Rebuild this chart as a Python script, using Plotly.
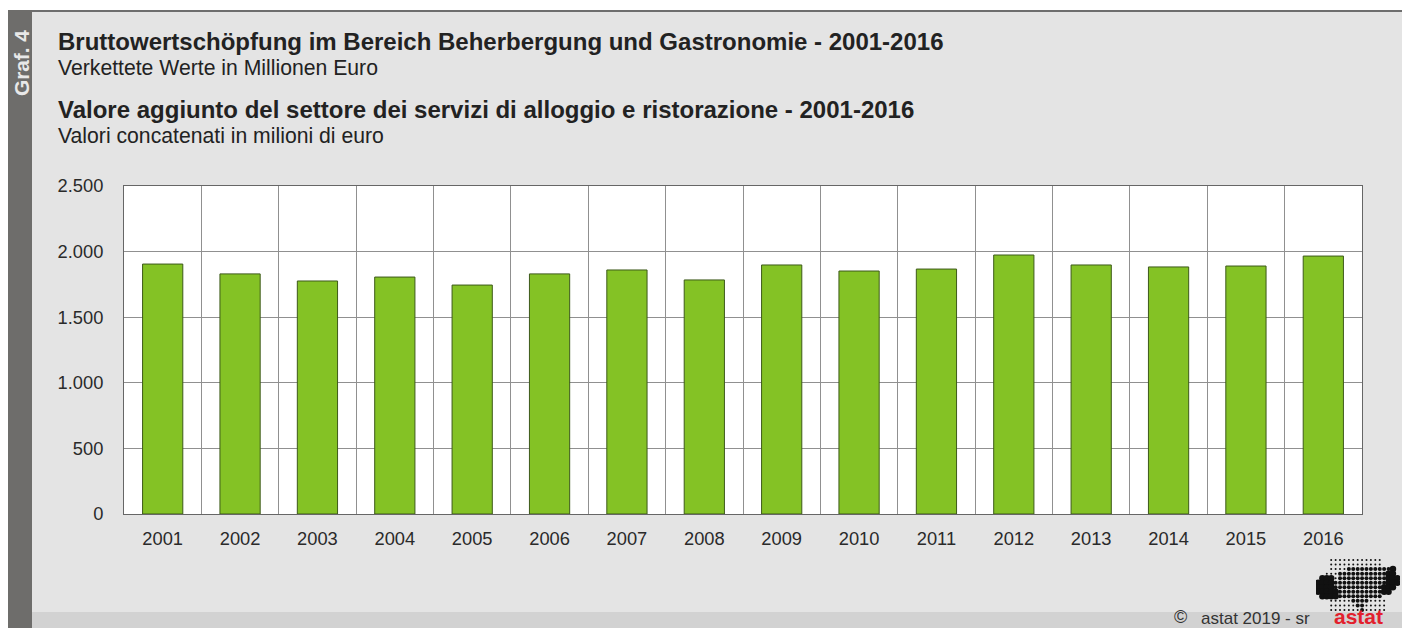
import plotly.graph_objects as go

W, H = 1402, 628
years = ["2001","2002","2003","2004","2005","2006","2007","2008","2009","2010","2011","2012","2013","2014","2015","2016"]
values = [1905,1830,1776,1806,1745,1830,1860,1784,1898,1852,1867,1974,1898,1883,1890,1966]
y_ticks = [0,500,1000,1500,2000,2500]
y_labels = ["0","500","1.000","1.500","2.000","2.500"]
logo_rows = [
    "   ............    ",
    "   ............    ",
    "   ....##########@ ",
    "  ...###########@@ ",
    " @@@.###########@@@",
    "@@@@############@@@",
    "@@@@###########@@@ ",
    "@@@@@##########@@  ",
    " @@@@##########    ",
    "   .....####....   ",
    "   ......##.....   ",
    "   .......#.....   ",
]

def px(x): return x / W
def py(y): return 1 - y / H

fig = go.Figure()
fig.add_bar(x=years, y=values, width=0.52, marker=dict(color="#84c225", line=dict(color="#3d5a1a", width=1)), hoverinfo="skip")

dx, dy, sizes = [], [], []
size_of = {"@": 6.5, "#": 4, ".": 2}
for r, row in enumerate(logo_rows):
    for c, ch in enumerate(row):
        if ch != " ":
            dx.append(c); dy.append(r); sizes.append(size_of[ch])
fig.add_scatter(x=dx, y=dy, xaxis="x2", yaxis="y2", mode="markers",
                marker=dict(color="#111111", size=sizes, line_width=0, opacity=1), hoverinfo="skip")

def txt(x, y, s, size, bold=False, color="#222222", **kw):
    fig.add_annotation(xref="paper", yref="paper", x=px(x), y=py(y), text=f"<b>{s}</b>" if bold else s,
        showarrow=False, xanchor=kw.pop("xanchor","left"), yanchor="middle",
        font=dict(size=size, color=color, family="Liberation Sans, Arial"), **kw)

txt(58, 42, "Bruttowertschöpfung im Bereich Beherbergung und Gastronomie - 2001-2016", 24, True, xshift=-2)
txt(58, 67, "Verkettete Werte in Millionen Euro", 21.2, xshift=-2)
txt(58, 110, "Valore aggiunto del settore dei servizi di alloggio e ristorazione - 2001-2016", 24, True, xshift=-2)
txt(58, 135, "Valori concatenati in milioni di euro", 21.2, xshift=-2)
txt(21, 63, "Graf. 4", 20.8, True, color="#e8e8e8", xanchor="center", textangle=-90)
txt(1174, 617, "©", 18, color="#333333", xshift=-2)
txt(1201, 618, "astat 2019 - sr", 17, color="#333333", xshift=-2)
txt(1358, 616, "astat", 21, True, color="#e2202c", xanchor="center")

shape = lambda x0,y0,x1,y1,c: dict(type="rect", xref="paper", yref="paper", x0=px(x0), x1=px(x1), y0=py(y0), y1=py(y1), fillcolor=c, line_width=0, layer="below")
fig.update_layout(
    width=W, height=H, margin=dict(l=0,r=0,t=0,b=0), showlegend=False,
    paper_bgcolor="#e4e4e4", plot_bgcolor="#ffffff",
    font=dict(family="Liberation Sans, Arial", size=18.3, color="#2a2a2a"),
    shapes=[shape(0,0,W,10,"#ffffff"), shape(0,0,8,H,"#ffffff"), shape(8,10,W,12,"#6e6e6e"), shape(8,10,32,H,"#6e6d6b"),
            shape(1314,556,1402,612,"#e4e4e4"), shape(32,612,W,H,"#d2d2d2")],
    xaxis=dict(domain=[px(124),px(1362)], type="category", tickson="boundaries", ticks="", showgrid=True, gridcolor="#909090", gridwidth=1,
               showline=True, linecolor="#666666", linewidth=1, mirror=True, automargin=False, ticklabelstandoff=8),
    yaxis=dict(domain=[py(514),py(186)], range=[0,2500], tickvals=y_ticks, ticktext=y_labels, ticks="", showgrid=True, gridcolor="#909090", gridwidth=1,
               zeroline=False, showline=True, linecolor="#666666", linewidth=1, mirror=True, automargin=False, ticklabelstandoff=16),
    xaxis2=dict(domain=[px(1316),px(1400)], range=[-0.45,18.6], visible=False, anchor="y2", fixedrange=True),
    yaxis2=dict(domain=[py(614),py(558)], range=[11.9,-0.45], visible=False, anchor="x2", fixedrange=True),
)
fig.write_html("out.html", config={"displayModeBar": False}, post_script="document.body.style.margin='0';")
